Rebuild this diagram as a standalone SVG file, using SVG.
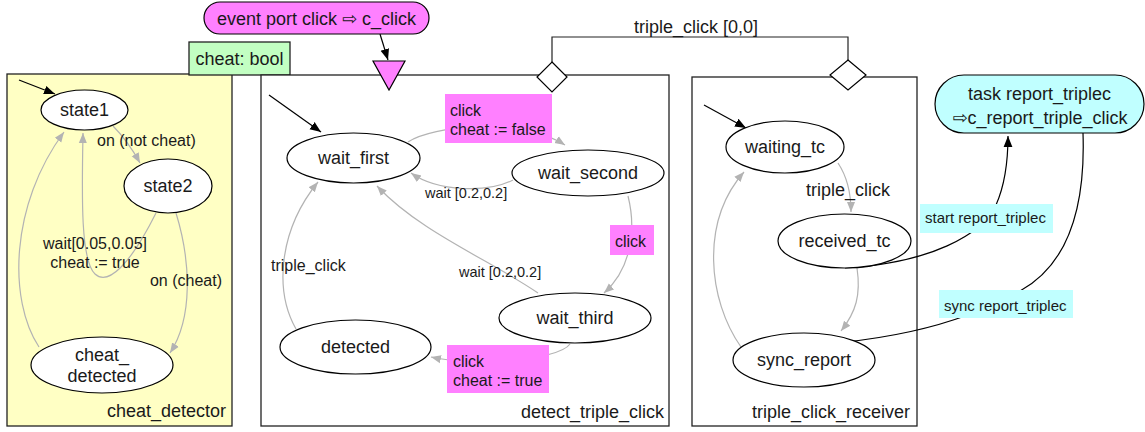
<svg xmlns="http://www.w3.org/2000/svg" width="1145" height="432" viewBox="0 0 1145 432">
<defs>
<style>
text{font-family:"Liberation Sans",Arial,"DejaVu Sans",sans-serif;fill:#1a1a1a}
.n{font-size:18px;text-anchor:middle}
.l16{font-size:16px}
.l15{font-size:15px}
.l14{font-size:14.5px}
.st{fill:#fff;stroke:#000;stroke-width:1.2}
.box{stroke:#222;stroke-width:1.3}
.g{fill:none;stroke:#b3b3b3;stroke-width:1.2}
.k{fill:none;stroke:#000;stroke-width:1.2}
.pink{fill:#ff80ff}
.cyan{fill:#c0ffff}
</style>
<marker id="ag" viewBox="0 0 10 10" refX="10" refY="5" markerWidth="10" markerHeight="10" markerUnits="userSpaceOnUse" orient="auto"><path d="M0,1 L10,5 L0,9 z" fill="#b3b3b3"/></marker>
<marker id="ak" viewBox="0 0 10 10" refX="10" refY="5" markerWidth="11" markerHeight="11" markerUnits="userSpaceOnUse" orient="auto"><path d="M0,1 L10,5 L0,9 z" fill="#000"/></marker>
</defs>
<rect width="1145" height="432" fill="#fff"/>

<g id="cheat_detector">
<rect class="box" x="7" y="74" width="225" height="352" fill="#ffffc4"/>
<text x="226" y="417" font-size="18" text-anchor="end">cheat_detector</text>
</g>
<g id="cheat_var">
<rect class="box" x="189" y="42" width="101" height="33" fill="#c2ffc2" stroke-width="1"/>
<text x="239.5" y="65" font-size="18" text-anchor="middle">cheat: bool</text>
</g>
<g id="detect_triple_click">
<rect class="box" x="261" y="75" width="408" height="351" fill="#fff"/>
<text x="664" y="418" font-size="18" text-anchor="end">detect_triple_click</text>
</g>
<g id="triple_click_receiver">
<rect class="box" x="692" y="77" width="225" height="349" fill="#fff"/>
<text x="910" y="418" font-size="18" text-anchor="end">triple_click_receiver</text>
</g>

<g id="connectors">
<!-- sync triple_click -->
<path d="M552,62 V37 H848 V60" fill="none" stroke="#222" stroke-width="1.2"/>
<text x="696" y="33" font-size="18" text-anchor="middle">triple_click [0,0]</text>
<!-- event port arrow -->
<path class="k" d="M380,34 L388,60" marker-end="url(#ak)"/>
<!-- cheat detector -->
<path class="k" d="M19,80 L55,94" marker-end="url(#ak)"/>
<path class="g" d="M113,126 Q128,141 140,163" marker-end="url(#ag)"/>
<text class="l16" x="97" y="146">on (not cheat)</text>
<path class="g" d="M156,213 C130,265 108,286 95,274 C80,260 82,190 83,133" marker-end="url(#ag)"/>
<text class="l16" x="95" y="249" text-anchor="middle">wait[0.05,0.05]</text>
<text class="l16" x="95" y="268" text-anchor="middle">cheat := true</text>
<path class="g" d="M176,213 C191,262 193,318 170,353" marker-end="url(#ag)"/>
<text class="l16" x="186" y="286" text-anchor="middle">on (cheat)</text>
<path class="g" d="M39,347 C8,300 10,205 64,132" marker-end="url(#ag)"/>
<!-- detect triple click -->
<path class="k" d="M269,95 L321,132" marker-end="url(#ak)"/>
<path class="g" d="M408,142 C432,126 520,116 565,145" marker-end="url(#ag)"/>
<rect class="pink" x="445" y="94" width="107" height="49"/>
<text class="l16" x="450" y="116">click</text>
<text class="l16" x="450" y="135">cheat := false</text>
<path class="g" d="M513,180 C488,193 438,192 411,173" marker-end="url(#ag)"/>
<text class="l14" x="425" y="198">wait [0.2,0.2]</text>
<path class="g" d="M628,196 C637,232 630,270 604,293" marker-end="url(#ag)"/>
<rect class="pink" x="610" y="225" width="44" height="30"/>
<text class="l16" x="615" y="247">click</text>
<path class="g" d="M538,293 C490,260 420,232 377,186" marker-end="url(#ag)"/>
<text class="l14" x="459" y="277">wait [0.2,0.2]</text>
<path class="g" d="M570,344 C558,361 470,366 431,357" marker-end="url(#ag)"/>
<rect class="pink" x="447" y="345" width="102" height="48"/>
<text class="l16" x="453" y="367">click</text>
<text class="l16" x="453" y="386">cheat := true</text>
<path class="g" d="M296,329 C274,290 279,230 318,182" marker-end="url(#ag)"/>
<text class="l16" x="271" y="271">triple_click</text>
<!-- receiver -->
<path class="k" d="M704,105 L746,128" marker-end="url(#ak)"/>
<path class="g" d="M838,163 C848,178 851,195 851,212" marker-end="url(#ag)"/>
<text x="806" y="196" font-size="18">triple_click</text>
<path class="g" d="M857,268 C861,295 856,312 841,331" marker-end="url(#ag)"/>
<path class="g" d="M741,347 C708,300 700,222 744,172" marker-end="url(#ag)"/>
<path class="k" d="M845,268 C930,263 982,235 996,205 C1004,187 1008,162 1008,136" marker-end="url(#ak)"/>
<rect class="cyan" x="920" y="204" width="133" height="29"/>
<text class="l15" x="925" y="223">start report_triplec</text>
<path class="k" d="M1083,133 C1086,220 1062,268 1020,291 C960,325 880,346 746,348" marker-end="url(#ak)"/>
<rect class="cyan" x="939" y="290" width="134" height="28"/>
<text class="l15" x="944" y="311">sync report_triplec</text>
</g>

<g id="event_port">
<rect x="204" y="2" width="225" height="32" rx="16" ry="16" fill="#ff80ff" stroke="#000" stroke-width="1.2"/>
<text class="n" x="316.5" y="24.5">event port click ⇨ c_click</text>
</g>
<g id="click_port">
<path d="M373,61 L405,61 L389,90 z" fill="#ff80ff" stroke="#000" stroke-width="1.2"/>
</g>
<g id="sync_left"><path d="M552,62 L567,77 L552,92 L537,77 z" fill="#fff" stroke="#000" stroke-width="1.2"/></g>
<g id="sync_right"><path d="M848,60 L866,75 L848,90 L830,75 z" fill="#fff" stroke="#000" stroke-width="1.2"/></g>

<g id="state1"><ellipse class="st" cx="84.5" cy="110" rx="43.5" ry="20"/><text class="n" x="84.5" y="116">state1</text></g>
<g id="state2"><ellipse class="st" cx="168" cy="186" rx="44" ry="27"/><text class="n" x="168" y="192">state2</text></g>
<g id="cheat_detected"><ellipse class="st" cx="102" cy="365" rx="71" ry="28"/><text class="n" x="102" y="361">cheat_</text><text class="n" x="102" y="382">detected</text></g>

<g id="wait_first"><ellipse class="st" cx="353.5" cy="158" rx="66.5" ry="25"/><text class="n" x="353.5" y="164">wait_first</text></g>
<g id="wait_second"><ellipse class="st" cx="588" cy="173" rx="76" ry="23"/><text class="n" x="588" y="179">wait_second</text></g>
<g id="wait_third"><ellipse class="st" cx="575" cy="318" rx="76" ry="25"/><text class="n" x="575" y="324">wait_third</text></g>
<g id="detected"><ellipse class="st" cx="355.5" cy="347" rx="75.5" ry="27"/><text class="n" x="355.5" y="353">detected</text></g>

<g id="waiting_tc"><ellipse class="st" cx="785" cy="147" rx="59" ry="26"/><text class="n" x="785" y="153">waiting_tc</text></g>
<g id="received_tc"><ellipse class="st" cx="844.5" cy="241" rx="66.5" ry="27"/><text class="n" x="844.5" y="247">received_tc</text></g>
<g id="sync_report"><ellipse class="st" cx="804" cy="360" rx="71" ry="27"/><text class="n" x="804" y="366">sync_report</text></g>

<g id="task_report_triplec">
<rect x="935" y="75" width="209" height="58" rx="29" ry="29" fill="#c0ffff" stroke="#000" stroke-width="1.2"/>
<text class="n" x="1039.5" y="100">task report_triplec</text>
<text class="n" x="1040" y="124">⇨c_report_triple_click</text>
</g>
</svg>
